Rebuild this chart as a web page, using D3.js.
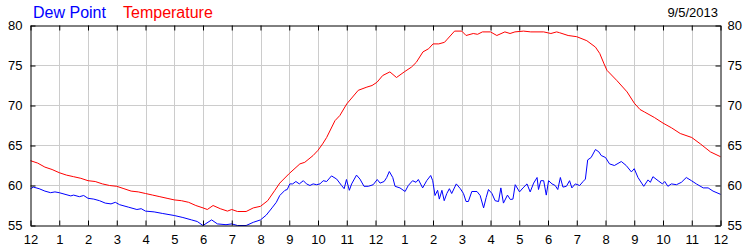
<!DOCTYPE html>
<html>
<head>
<meta charset="utf-8">
<script src="https://cdn.jsdelivr.net/npm/d3@7"></script>
<style>
  body { margin: 0; background: #fff; }
  svg { font-family: "Liberation Sans", Arial, sans-serif; }
</style>
</head>
<body>
<div id="chart"></div>
<script>
  var width = 750;
  var height = 250;

  // hour labels along the bottom, midnight to midnight
  var hourLabels = ['12','1','2','3','4','5','6','7','8','9','10','11',
                    '12','1','2','3','4','5','6','7','8','9','10','11','12'];
  var yTicks = [55, 60, 65, 70, 75, 80];
  var dateLabel = '9/5/2013';

  // [hour of day, degrees F]
  var temperature = [
    [0,63.1],[0.25,62.8],[0.5,62.3],[0.75,62.0],[1,61.6],[1.25,61.3],[1.5,61.1],[1.75,60.9],
    [2,60.6],[2.25,60.5],[2.5,60.2],[2.75,60.0],[3,59.9],[3.25,59.6],[3.5,59.3],[3.75,59.2],
    [4,59.0],[4.25,58.8],[4.5,58.6],[4.75,58.4],[5,58.2],[5.25,58.1],[5.5,57.9],[5.75,57.5],
    [6,57.2],[6.15,57.0],[6.35,57.5],[6.6,57.1],[6.85,56.8],[7,57.0],[7.2,56.75],[7.5,56.75],
    [7.75,57.2],[8,57.4],[8.25,58.1],[8.5,59.4],[8.67,60.3],[9,61.5],[9.37,62.7],[9.54,62.9],
    [9.83,63.75],[10,64.4],[10.16,65.2],[10.3,66.0],[10.59,68.1],[10.76,68.75],[11,70.2],
    [11.4,71.9],[11.7,72.3],[11.88,72.5],[12.05,72.9],[12.25,73.75],[12.5,74.2],[12.73,73.5],
    [13,74.2],[13.25,74.8],[13.42,75.4],[13.65,76.7],[13.85,77.1],[14,77.7],[14.2,77.7],
    [14.4,77.9],[14.5,78.3],[14.75,79.3],[15,79.3],[15.15,78.75],[15.4,79.0],[15.55,78.9],
    [15.72,79.2],[16,79.2],[16.22,78.75],[16.5,79.2],[16.68,79.0],[16.85,79.2],[17.15,79.3],
    [17.4,79.2],[17.85,79.2],[18.1,79.0],[18.3,79.2],[18.4,79.1],[18.7,78.75],[19,78.6],
    [19.35,78.1],[19.65,77.3],[19.8,76.5],[19.95,75.2],[20.05,74.4],[20.4,73.1],[20.75,71.7],
    [21,70.3],[21.2,69.5],[21.35,69.2],[21.7,68.5],[22,67.8],[22.3,67.2],[22.6,66.5],
    [23,66.0],[23.3,65.2],[23.65,64.2],[24,63.6]
  ];

  var dewPoint = [
    [0,59.6],[0.1,59.8],[0.3,59.6],[0.5,59.3],[0.7,59.1],[0.85,59.2],[1,59.1],[1.2,58.9],
    [1.4,58.7],[1.5,58.8],[1.7,58.6],[1.85,58.75],[2,58.4],[2.2,58.3],[2.4,58.1],[2.6,57.8],
    [2.8,57.7],[2.95,57.9],[3.1,57.6],[3.4,57.3],[3.7,57.0],[3.85,57.1],[4,56.8],[4.3,56.7],
    [4.6,56.5],[5,56.25],[5.3,56.0],[5.6,55.7],[5.8,55.5],[6,55.0],[6.3,55.7],[6.5,55.2],
    [6.8,55.1],[7,55.2],[7.2,55.0],[7.5,55.0],[7.75,55.4],[8,55.7],[8.2,56.3],[8.4,57.2],
    [8.55,57.9],[8.67,58.75],[8.85,59.4],[8.93,59.5],[9.02,60.2],[9.12,60.2],[9.23,60.5],
    [9.35,60.2],[9.49,60.6],[9.6,60.2],[9.72,60.0],[9.83,60.2],[9.95,60.1],[10.07,60.2],
    [10.18,60.6],[10.3,60.5],[10.47,61.2],[10.65,60.8],[10.82,60.0],[10.91,59.6],[10.99,60.75],
    [11.09,59.4],[11.17,60.2],[11.34,61.3],[11.46,60.8],[11.6,59.9],[11.75,59.9],[11.92,60.1],
    [12.06,60.75],[12.16,60.3],[12.3,60.5],[12.39,61.0],[12.48,61.75],[12.6,61.0],[12.68,59.9],
    [12.85,59.7],[13.03,59.25],[13.14,60.0],[13.29,60.6],[13.41,60.4],[13.49,60.75],[13.64,59.7],
    [13.78,60.6],[13.92,61.25],[13.99,60.6],[14.07,58.75],[14.16,59.4],[14.22,58.3],[14.31,59.4],
    [14.39,58.1],[14.48,59.0],[14.57,59.6],[14.65,59.0],[14.81,60.2],[14.95,59.6],[15.06,59.0],
    [15.15,58.0],[15.23,58.0],[15.35,59.25],[15.53,59.25],[15.64,58.75],[15.76,57.2],[15.85,58.5],
    [15.93,59.5],[16.05,59.0],[16.16,58.1],[16.28,58.0],[16.36,59.7],[16.45,57.8],[16.59,58.8],
    [16.69,58.25],[16.78,58.3],[16.86,60.1],[17.01,59.2],[17.13,59.7],[17.27,60.2],[17.38,59.2],
    [17.5,60.3],[17.62,61.0],[17.67,59.5],[17.75,60.6],[17.85,60.6],[17.94,58.8],[18.02,60.6],
    [18.14,60.2],[18.25,60.0],[18.34,59.5],[18.43,61.0],[18.52,59.8],[18.64,59.9],[18.75,60.6],
    [18.83,59.7],[18.95,60.2],[19.1,60.0],[19.22,60.5],[19.3,60.8],[19.38,63.2],
    [19.5,63.5],[19.65,64.5],[19.77,64.2],[19.85,63.75],[20,63.5],[20.14,62.7],[20.31,62.5],
    [20.55,63.0],[20.72,62.5],[20.9,61.7],[21,62.1],[21.13,61.0],[21.33,59.9],[21.48,60.7],
    [21.56,60.4],[21.65,61.1],[21.83,60.6],[21.98,60.2],[22.06,60.5],[22.17,59.9],[22.29,60.2],
    [22.47,60.1],[22.64,60.4],[22.81,61.0],[22.99,60.6],[23.16,60.2],[23.4,59.7],[23.57,59.7],
    [23.74,59.3],[24,58.9]
  ];

  var svg = d3.select('#chart').append('svg')
      .attr('width', width)
      .attr('height', height);

  var xScale = d3.scaleLinear().domain([0, 24]).range([30.5, 720.5]);
  var yScale = d3.scaleLinear().domain([55, 80]).range([225.5, 25.5]);
  var hours = d3.range(0, 25);

  // light grid behind everything
  var grid = svg.append('g').attr('stroke', '#cccccc').attr('stroke-width', 1);
  grid.selectAll('line.v').data(hours.slice(1, -1)).enter().append('line')
      .attr('class', 'v')
      .attr('x1', d => Math.round(xScale(d)) + 0.5).attr('x2', d => Math.round(xScale(d)) + 0.5)
      .attr('y1', yScale(80)).attr('y2', yScale(55));
  grid.selectAll('line.h').data(yTicks.slice(1, -1)).enter().append('line')
      .attr('class', 'h')
      .attr('x1', xScale(0)).attr('x2', xScale(24))
      .attr('y1', d => yScale(d)).attr('y2', d => yScale(d));

  // the two series
  var line = d3.line().x(d => xScale(d[0])).y(d => yScale(d[1]));
  svg.append('path').datum(dewPoint)
      .attr('d', line).attr('fill', 'none')
      .attr('stroke', '#0000ff').attr('stroke-width', 1);
  svg.append('path').datum(temperature)
      .attr('d', line).attr('fill', 'none')
      .attr('stroke', '#ff0000').attr('stroke-width', 1);

  // axes: ticks point inward, frame is made of the domain paths
  var fmtHour = h => hourLabels[h];

  svg.append('g')
      .attr('transform', 'translate(0,' + yScale(55) + ')')
      .call(d3.axisBottom(xScale).tickValues(hours).tickFormat(fmtHour)
            .tickSizeInner(-5).tickSizeOuter(0).tickPadding(9));
  svg.append('g')
      .attr('transform', 'translate(0,' + yScale(80) + ')')
      .call(d3.axisTop(xScale).tickValues(hours).tickFormat('')
            .tickSizeInner(-5).tickSizeOuter(0));
  svg.append('g')
      .attr('transform', 'translate(' + xScale(0) + ',0)')
      .call(d3.axisLeft(yScale).tickValues(yTicks)
            .tickSizeInner(-5).tickSizeOuter(0).tickPadding(8));
  svg.append('g')
      .attr('transform', 'translate(' + xScale(24) + ',0)')
      .call(d3.axisRight(yScale).tickValues(yTicks)
            .tickSizeInner(-5).tickSizeOuter(0).tickPadding(7));

  svg.selectAll('.tick text')
      .style('font-family', '"Liberation Sans", Arial, sans-serif')
      .style('font-size', '13px')
      .attr('fill', '#000');
  svg.selectAll('.domain, .tick line').attr('stroke', '#000');

  // legend and date
  svg.append('text')
      .attr('x', 33).attr('y', 18)
      .style('font-size', '16px').attr('fill', '#0000ff')
      .text('Dew Point');
  svg.append('text')
      .attr('x', 123).attr('y', 18)
      .style('font-size', '16px').attr('fill', '#ff0000')
      .text('Temperature');
  svg.append('text')
      .attr('x', 718).attr('y', 17)
      .style('text-anchor', 'end')
      .style('font-size', '13px').attr('fill', '#000')
      .text(dateLabel);
</script>
</body>
</html>
